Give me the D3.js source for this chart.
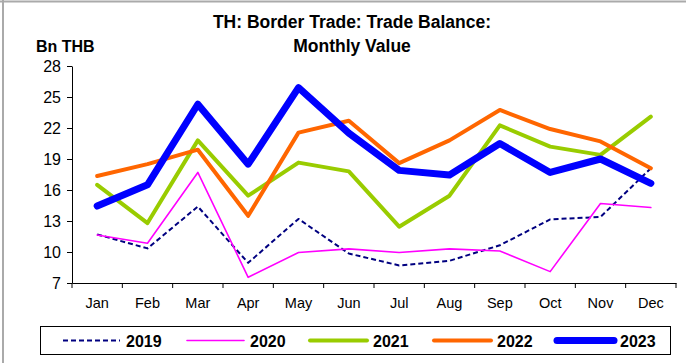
<!DOCTYPE html>
<html><head><meta charset="utf-8">
<script src="https://cdn.jsdelivr.net/npm/d3@7"></script>
<style>
html,body{margin:0;padding:0;background:#fff;}
svg{display:block;font-family:"Liberation Sans",Arial,sans-serif;}
</style></head><body>
<svg id="c" width="686" height="363"></svg>
<script>
const months = ["Jan","Feb","Mar","Apr","May","Jun","Jul","Aug","Sep","Oct","Nov","Dec"];
const years = ["2019","2020","2021","2022","2023"];
const v2019 = [11.7,10.35,14.4,8.95,13.2,9.85,8.7,9.15,10.65,13.15,13.4,18.1];
const v2020 = [11.65,10.85,17.7,7.55,9.95,10.3,9.95,10.3,10.1,8.1,14.7,14.3];
const v2021 = [16.5,12.8,20.8,15.45,18.65,17.8,12.45,15.45,22.25,20.2,19.4,23.1];
const v2022 = [17.35,18.5,19.9,13.5,21.55,22.7,18.6,20.8,23.75,21.9,20.7,18.1];
const v2023 = [14.45,16.5,24.3,18.5,25.9,21.5,17.9,17.45,20.5,17.7,19.0,16.65];
const yTicks = [7,10,13,16,19,22,25,28];
const seriesValues = [v2019,v2020,v2021,v2022,v2023];
const styles = [
  {color:"#000080", width:2, dash:"5,3"},
  {color:"#FF00FF", width:1.6, dash:null},
  {color:"#99CC00", width:4, dash:null},
  {color:"#FF6600", width:4, dash:null},
  {color:"#0000FF", width:7, dash:null}
];

const svg = d3.select("#c");
// outer frame
svg.append("line").attr("x1",0).attr("x2",686).attr("y1",1.5).attr("y2",1.5).attr("stroke","#aaa").attr("stroke-width",2);
svg.append("line").attr("x1",3).attr("x2",3).attr("y1",0).attr("y2",363).attr("stroke","#aaa").attr("stroke-width",2);

const L=72, R=676, T=66, B=283;
const x = d3.scaleBand().domain(months).range([L,R]);
const y = d3.scaleLinear().domain([7,28]).range([B,T]);

// title
svg.append("text").attr("x",352).attr("y",28).attr("text-anchor","middle")
  .attr("font-size",17.5).attr("font-weight","bold").text("TH: Border Trade: Trade Balance:");
svg.append("text").attr("x",352).attr("y",52).attr("text-anchor","middle")
  .attr("font-size",17.5).attr("font-weight","bold").text("Monthly Value");
svg.append("text").attr("x",36).attr("y",52)
  .attr("font-size",16).attr("font-weight","bold").text("Bn THB");

// y axis
const ya = svg.append("g").attr("transform",`translate(${L},0)`)
  .call(d3.axisLeft(y).tickValues(yTicks).tickSize(5).tickPadding(6).tickSizeOuter(0));
ya.select(".domain").attr("stroke","#000");
ya.selectAll("text").attr("font-size",16).attr("font-family","Liberation Sans, Arial, sans-serif").attr("fill","#000");

// x axis
const xa = svg.append("g").attr("transform",`translate(0,${B})`)
  .call(d3.axisBottom(x).tickSize(0).tickPadding(15).tickSizeOuter(0));
xa.select(".domain").attr("stroke","#000");
xa.selectAll("text").attr("font-size",14.5).attr("font-family","Liberation Sans, Arial, sans-serif").attr("fill","#000");
// boundary ticks
const bounds = months.map(m=>x(m)).concat([R]);
svg.append("g").selectAll("line").data(bounds).join("line")
  .attr("x1",d=>d).attr("x2",d=>d).attr("y1",B).attr("y2",B+5).attr("stroke","#000");

// lines
const line = d3.line().x((d,i)=>x(months[i])+x.bandwidth()/2).y(d=>y(d));
seriesValues.forEach((vals,k)=>{
  const s = styles[k];
  svg.append("path").datum(vals).attr("d",line).attr("fill","none")
    .attr("stroke",s.color).attr("stroke-width",s.width)
    .attr("stroke-dasharray",s.dash).attr("stroke-linejoin","round")
    .attr("stroke-linecap", s.dash? "butt":"round");
});

// legend
svg.append("rect").attr("x",40.5).attr("y",326.5).attr("width",630).attr("height",28)
  .attr("fill","#fff").attr("stroke","#000").attr("stroke-width",1);
const legX = [63,187,310,434,557];
years.forEach((yr,k)=>{
  const s = styles[k];
  const g = svg.append("g");
  g.append("line").attr("x1",legX[k]).attr("x2",legX[k]+57).attr("y1",340.5).attr("y2",340.5)
    .attr("stroke",s.color).attr("stroke-width",s.width).attr("stroke-dasharray",s.dash)
    .attr("stroke-linecap", s.dash? "butt":"round");
  g.append("text").attr("x",legX[k]+63).attr("y",346.5).attr("font-size",16).attr("font-weight","bold").text(yr);
});
</script>
</body></html>
